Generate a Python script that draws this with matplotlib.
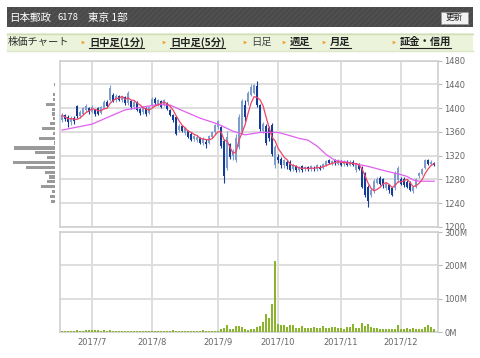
import matplotlib
matplotlib.use('Agg')
import matplotlib.pyplot as plt
import numpy as np
import pandas as pd
from matplotlib.patches import Rectangle

# ---------------- data ----------------
month_idx = [10, 30, 52, 72, 93, 113]
month_labels = ['2017/7', '2017/8', '2017/9', '2017/10', '2017/11', '2017/12']

opens = [1380, 1388, 1385, 1377, 1383, 1404, 1386, 1390, 1396, 1400,
         1394, 1397, 1400, 1392, 1400, 1410, 1414, 1422, 1413, 1420,
         1414, 1418, 1408, 1412, 1401, 1410, 1398, 1393, 1400, 1392,
         1403, 1416, 1405, 1412, 1405, 1408, 1396, 1388, 1385, 1363,
         1370, 1358, 1361, 1357, 1348, 1346, 1350, 1341, 1343, 1342,
         1352, 1359, 1368, 1368, 1345, 1300, 1339, 1320, 1313, 1335,
         1360, 1405, 1410, 1422, 1426, 1437, 1405, 1362, 1370, 1366,
         1372, 1304, 1318, 1315, 1305, 1310, 1310, 1298, 1302, 1296,
         1302, 1297, 1301, 1298, 1300, 1297, 1301, 1300, 1305, 1312,
         1306, 1313, 1306, 1310, 1306, 1310, 1304, 1310, 1296, 1306,
         1300, 1291, 1268, 1254, 1260, 1274, 1282, 1280, 1265, 1270,
         1265, 1265, 1279, 1281, 1280, 1276, 1274, 1260, 1268, 1285,
         1289, 1300, 1312, 1306, 1308]
closes = [1388, 1382, 1376, 1383, 1378, 1386, 1394, 1400, 1404, 1393,
          1402, 1390, 1390, 1402, 1411, 1404, 1433, 1412, 1421, 1414,
          1419, 1408, 1425, 1401, 1411, 1397, 1392, 1402, 1390, 1401,
          1415, 1408, 1413, 1402, 1414, 1398, 1388, 1380, 1356, 1370,
          1362, 1366, 1352, 1346, 1353, 1352, 1342, 1348, 1339, 1353,
          1360, 1372, 1378, 1336, 1285, 1352, 1318, 1328, 1350, 1385,
          1412, 1385, 1425, 1436, 1438, 1405, 1365, 1374, 1342, 1350,
          1323, 1335, 1312, 1305, 1312, 1302, 1296, 1304, 1296, 1300,
          1296, 1301, 1297, 1302, 1297, 1304, 1298, 1306, 1311, 1308,
          1311, 1307, 1312, 1304, 1310, 1304, 1310, 1304, 1306, 1298,
          1268, 1254, 1243, 1262, 1277, 1280, 1273, 1270, 1273, 1262,
          1254, 1291, 1300, 1273, 1270, 1268, 1262, 1267, 1280, 1291,
          1298, 1313, 1306, 1310, 1304]
highs = [1392, 1390, 1388, 1386, 1386, 1406, 1396, 1402, 1407, 1402,
         1405, 1399, 1402, 1404, 1414, 1413, 1438, 1425, 1424, 1422,
         1421, 1420, 1428, 1414, 1414, 1412, 1400, 1404, 1402, 1404,
         1418, 1419, 1416, 1414, 1416, 1410, 1398, 1390, 1387, 1373,
         1372, 1368, 1363, 1360, 1355, 1355, 1352, 1351, 1348, 1355,
         1362, 1374, 1380, 1370, 1348, 1362, 1342, 1332, 1356, 1390,
         1416, 1414, 1428, 1440, 1441, 1446, 1407, 1377, 1373, 1370,
         1375, 1338, 1322, 1318, 1315, 1312, 1312, 1306, 1305, 1302,
         1304, 1303, 1303, 1304, 1302, 1306, 1304, 1308, 1313, 1314,
         1313, 1315, 1314, 1312, 1312, 1312, 1312, 1312, 1308, 1308,
         1302, 1293, 1270, 1265, 1280, 1284, 1285, 1282, 1276, 1272,
         1267, 1294, 1302, 1284, 1284, 1279, 1277, 1269, 1282, 1293,
         1300, 1315, 1314, 1312, 1310]
lows = [1376, 1378, 1368, 1372, 1374, 1384, 1383, 1388, 1393, 1390,
        1392, 1387, 1388, 1390, 1398, 1402, 1412, 1410, 1410, 1412,
        1411, 1405, 1406, 1399, 1399, 1395, 1389, 1390, 1387, 1390,
        1400, 1405, 1403, 1400, 1403, 1396, 1386, 1377, 1354, 1360,
        1359, 1355, 1350, 1344, 1345, 1343, 1340, 1338, 1333, 1340,
        1350, 1357, 1365, 1333, 1274, 1296, 1315, 1313, 1310, 1332,
        1356, 1378, 1406, 1420, 1424, 1402, 1362, 1358, 1338, 1345,
        1320, 1300, 1308, 1300, 1300, 1298, 1294, 1295, 1292, 1292,
        1293, 1294, 1295, 1295, 1294, 1295, 1296, 1298, 1303, 1306,
        1304, 1305, 1304, 1302, 1303, 1302, 1302, 1302, 1293, 1296,
        1265, 1250, 1234, 1250, 1258, 1272, 1270, 1266, 1262, 1258,
        1252, 1262, 1276, 1271, 1267, 1266, 1260, 1258, 1266, 1283,
        1287, 1298, 1304, 1304, 1302]
volumes_m = [3, 3, 3, 3, 4, 5, 3, 3, 6, 6,
             6, 6, 5, 3, 5, 3, 5, 3, 4, 3,
             3, 3, 3, 3, 3, 3, 3, 3, 3, 3,
             3, 3, 3, 3, 3, 3, 3, 5, 3, 3,
             3, 3, 3, 3, 3, 3, 3, 5, 3, 3,
             3, 3, 4, 9, 12, 21, 9, 9, 17, 19,
             16, 9, 6, 9, 9, 16, 18, 29, 54, 43,
             84, 213, 24, 21, 20, 16, 21, 21, 13, 13,
             18, 12, 12, 12, 14, 13, 13, 19, 11, 13,
             14, 14, 13, 12, 10, 15, 14, 23, 11, 11,
             26, 19, 23, 16, 12, 12, 9, 9, 10, 10,
             10, 10, 21, 10, 9, 11, 9, 11, 10, 10,
             10, 14, 22, 14, 10]

# long moving average (day index, price)
ma_long_idx = [0, 10, 15, 21, 26, 32, 36, 40, 46, 52, 57, 61, 66, 72, 75, 79,
               82, 85, 88, 91, 95, 98, 102, 108, 113, 115, 117, 119, 124]
ma_long_val = [1363, 1373, 1384, 1397, 1401, 1406, 1405, 1396, 1383, 1373, 1361,
               1355, 1359, 1359, 1355, 1349, 1346, 1336, 1322, 1312, 1309, 1306,
               1302, 1294, 1288, 1285, 1279, 1277, 1277]

# price-by-volume profile (price level, relative volume)
profile_price = [1440, 1423, 1414, 1406, 1398, 1390, 1382, 1374, 1366, 1357,
                 1349, 1341, 1333, 1325, 1317, 1308, 1300, 1292, 1284, 1276,
                 1268, 1260, 1251, 1243]
profile_vol = [1.5, 1.7, 1.7, 9, 3.3, 3.3, 2.3, 5, 13, 1.7,
               16, 1, 41, 20, 8.3, 42, 29, 9.7, 5.7, 8,
               14.3, 2.7, 5, 4.3]

price_ticks = [1200, 1240, 1280, 1320, 1360, 1400, 1440, 1480]
vol_ticks = [0, 100, 200, 300]
vol_labels = ['0M', '100M', '200M', '300M']

# ---------------- figure ----------------
plt.rcParams['font.family'] = ['DejaVu Sans']
plt.rcParams['hatch.linewidth'] = 0.6
CJK = ['Noto Sans CJK JP', 'DejaVu Sans']

W, H = 480, 358
fig = plt.figure(figsize=(W / 100, H / 100), dpi=100)
fig.patch.set_facecolor('white')


def box(x0, y0, x1, y1):
    return [x0 / W, 1 - y1 / H, (x1 - x0) / W, (y1 - y0) / H]


ov = fig.add_axes([0, 0, 1, 1], zorder=0)
ov.set_xlim(0, W)
ov.set_ylim(H, 0)
ov.axis('off')

# header bar
ov.add_patch(Rectangle((7, 7), 466, 20, facecolor='#4a4a4a', edgecolor='#575757',
                       hatch='//////', lw=0))
ov.text(9, 17.5, '日本郵政', color='white', fontsize=7.6, family=CJK, va='center')
ov.text(58, 17.5, '6178', color='white', fontsize=6.8, family=CJK, va='center')
ov.text(88, 17.5, '東京 1部', color='white', fontsize=7.6, family=CJK, va='center')
ov.add_patch(Rectangle((441, 12), 27, 11.5, facecolor='#f2f2f2', edgecolor='#999999', lw=0.6))
ov.text(454.5, 17.8, '更新', color='#222222', fontsize=6.2, family=CJK, va='center', ha='center')

# navigation bar
ov.add_patch(Rectangle((7, 33), 466, 18, facecolor='#ebf3da', edgecolor='none'))
ov.plot([7, 473], [33.5, 33.5], color='#cfdcb5', lw=1)
ov.plot([7, 473], [50.5, 50.5], color='#dbe7c6', lw=1)
ov.text(8, 42, '株価チャート', color='#333333', fontsize=7.4, family=CJK, va='center')
nav = [(83, '日中足(1分)', True), (164, '日中足(5分)', True), (245, '日足', False),
       (284, '週足', True), (324, '月足', True), (394, '証金・信用', True)]
nav_texts = []
for x, s, link in nav:
    ov.plot([x], [42], marker='>', ms=2.6, color='#f0a030', mec='none')
    t = ov.text(x + 6, 42, s, color='#222222' if link else '#444444', fontsize=7.4,
                family=CJK, va='center', fontweight='bold' if link else 'normal')
    if link:
        nav_texts.append(t)

# ---------------- price axes ----------------
idx = np.arange(len(closes))
o = np.array(opens, float)
c = np.array(closes, float)
hi = np.array(highs, float)
lo = np.array(lows, float)
up = c >= o
col_up, col_dn = '#7f9dcc', '#143b95'
colors = np.where(up, col_up, col_dn)

grid_c = '#dedede'
xlim = (-0.7, 125.3)

axp = fig.add_axes(box(60, 60.5, 438, 227), zorder=2)
axp.set_xlim(*xlim)
axp.set_ylim(1200, 1480)
for v in price_ticks:
    axp.axhline(v, color=grid_c, lw=1.4, zorder=0)
for m in month_idx:
    axp.axvline(m, color=grid_c, lw=1.4, zorder=0)
axp.vlines(idx, lo, hi, colors=colors, lw=0.8, zorder=2)
body = np.maximum(np.abs(c - o), 0.8)
axp.bar(idx, body, bottom=np.minimum(o, c), width=0.7, color=colors, lw=0, zorder=3)
ma_short = pd.Series(c).rolling(5, min_periods=1).mean()
axp.plot(ma_long_idx, ma_long_val, color='#e060f0', lw=0.9, zorder=4)
axp.plot(idx, ma_short, color='#ee4466', lw=0.9, zorder=5)
axp.yaxis.tick_right()
axp.set_yticks(price_ticks)
axp.set_yticklabels([str(v) for v in price_ticks])
axp.set_xticks([])
axp.tick_params(axis='y', length=3, width=0.8, color='#bbbbbb', labelsize=6,
                labelcolor='#666666', pad=1.5)
for sp in axp.spines.values():
    sp.set_color('#d0d0d0')
    sp.set_linewidth(1.2)

# price-by-volume profile
axh = fig.add_axes(box(8, 60.5, 55, 227), zorder=1)
axh.set_ylim(1200, 1480)
axh.set_xlim(47, 0)
axh.barh(profile_price, profile_vol, height=5.6, color='#9a9a9a', lw=0)
axh.axis('off')

# ---------------- volume axes ----------------
axv = fig.add_axes(box(60, 232, 438, 332), zorder=2)
axv.set_xlim(*xlim)
axv.set_ylim(0, 300)
for v in vol_ticks:
    axv.axhline(v, color=grid_c, lw=1.4, zorder=0)
for m in month_idx:
    axv.axvline(m, color=grid_c, lw=1.4, zorder=0)
axv.bar(idx, volumes_m, width=0.7, color='#8ab42c', lw=0, zorder=3)
axv.yaxis.tick_right()
axv.set_yticks(vol_ticks)
axv.set_yticklabels(vol_labels)
axv.set_xticks(month_idx)
axv.set_xticklabels(month_labels)
axv.tick_params(axis='y', length=3, width=0.8, color='#bbbbbb', labelsize=6,
                labelcolor='#666666', pad=1.5)
axv.tick_params(axis='x', length=0, labelsize=6, labelcolor='#666666', pad=4)
for sp in axv.spines.values():
    sp.set_color('#d0d0d0')
    sp.set_linewidth(1.2)

# underline links
fig.canvas.draw()
inv = ov.transData.inverted()
for t in nav_texts:
    bb = t.get_window_extent()
    (x0, _), (x1, _) = inv.transform([(bb.x0, bb.y0), (bb.x1, bb.y0)])
    ov.plot([x0, x1], [48, 48], color='#222222', lw=0.8)

fig.savefig('out.png', dpi=100, facecolor='white')
